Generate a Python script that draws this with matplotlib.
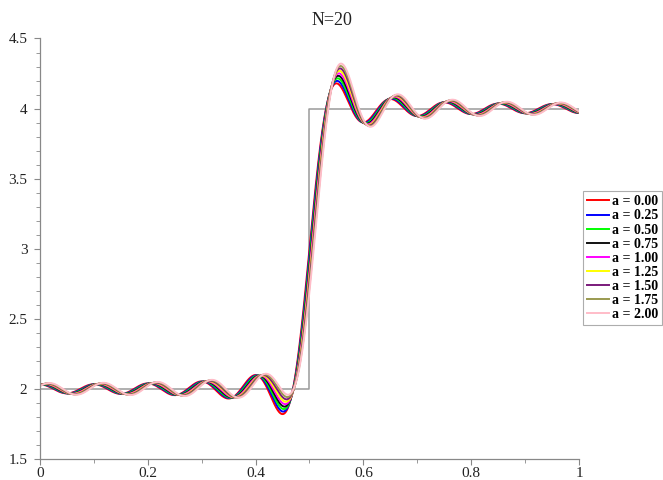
import numpy as np
import matplotlib
matplotlib.use('Agg')
import matplotlib.pyplot as plt
from matplotlib.ticker import MultipleLocator

# partial sums of the cosine series of the step, N terms,
# with a phase lag and a sine correction that grow with a
N = 20
a_values = [0.00, 0.25, 0.50, 0.75, 1.00, 1.25, 1.50, 1.75, 2.00]
colors = ['#ff0000', '#0000ff', '#00ff00', '#111111', '#ff00ff',
          '#ffff00', '#7a1a7a', '#9a9a50', '#ffbcc8']
step_x = [0, 0.5, 0.5, 1]
step_y = [2, 2, 4, 4]
x_ticks = [0, 0.2, 0.4, 0.6, 0.8, 1]
x_labels = ['0', '0.2', '0.4', '0.6', '0.8', '1']
y_ticks = [1.5, 2, 2.5, 3, 3.5, 4, 4.5]
y_labels = ['1.5', '2', '2.5', '3', '3.5', '4', '4.5']


def partial_sum(x, a, n_terms):
    k = np.arange(1, n_terms)
    coef = -4 / (k * np.pi) * np.sin(k * np.pi / 2)
    phase = 0.45 * a * (k / n_terms) ** 2
    extra = 0.2 * a * (k / n_terms) ** 8
    kx = np.outer(x, k * np.pi)
    return 3 + (np.cos(kx - phase) + extra * np.sin(kx)) @ coef


plt.rcParams['font.family'] = ['Liberation Serif', 'DejaVu Serif']
fig = plt.figure(figsize=(6.63, 4.8), dpi=100)
ax = fig.add_axes([0.0603, 0.0438, 0.8130, 0.8760])

ax.plot(step_x, step_y, color='#9a9a9a', lw=1.1)
x = np.linspace(0, 1, 1500)
for a, col in zip(a_values, colors):
    ax.plot(x, partial_sum(x, a, N), color=col, lw=1.4,
            label='a = %.2f' % a)

ax.set_xlim(0, 1)
ax.set_ylim(1.5, 4.5)
ax.set_xticks(x_ticks)
ax.set_xticklabels(x_labels)
ax.set_yticks(y_ticks)
ax.set_yticklabels(y_labels)
ax.xaxis.set_minor_locator(MultipleLocator(0.1))
ax.yaxis.set_minor_locator(MultipleLocator(0.1))
for side in ['top', 'right']:
    ax.spines[side].set_visible(False)
for side in ['left', 'bottom']:
    ax.spines[side].set_color('#888888')
    ax.spines[side].set_linewidth(0.9)
ax.tick_params(which='both', direction='out', color='#888888',
               labelsize=11, labelcolor='#222222')
ax.tick_params(which='major', length=4)
ax.tick_params(which='minor', length=3)
ax.tick_params(axis='x', pad=2)
ax.tick_params(axis='y', pad=5)

fig.text(0.5, 0.958, 'N=20', ha='center', va='center', fontsize=13,
         color='#222222')

leg = ax.legend(loc='upper left', bbox_to_anchor=(1.007, 0.637),
                frameon=True, fancybox=False, fontsize=10,
                handlelength=1.6, handletextpad=0.2, labelspacing=0.08,
                borderpad=0.3, borderaxespad=0)
leg.get_frame().set_edgecolor('#999999')
leg.get_frame().set_linewidth(0.8)
for t in leg.get_texts():
    t.set_fontweight('bold')

fig.savefig('out.png', dpi=100)
